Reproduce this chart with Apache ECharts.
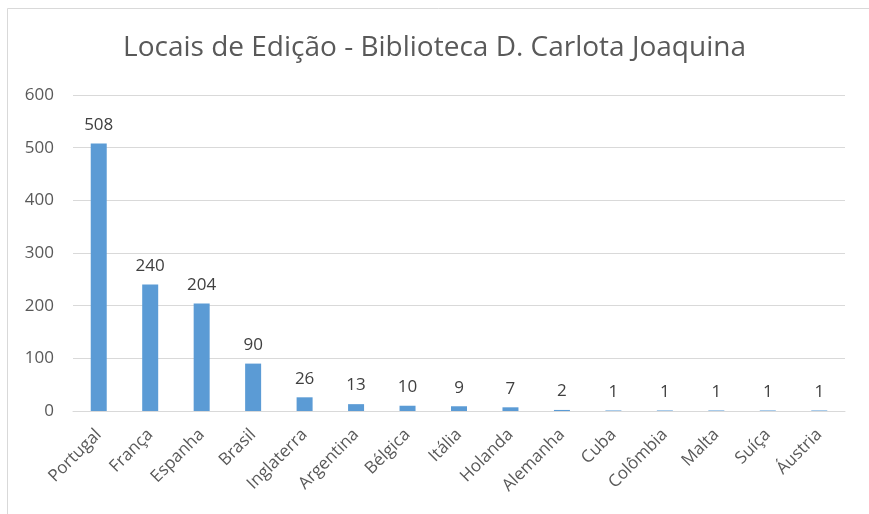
<!DOCTYPE html>
<html><head><meta charset="utf-8">
<script src="https://cdn.jsdelivr.net/npm/echarts@6/dist/echarts.min.js"></script>
<style>html,body{margin:0;padding:0;background:#fff}#c{width:869px;height:514px}</style>
</head><body><div id="c"></div>
<script>
const categories = ["Portugal","França","Espanha","Brasil","Inglaterra","Argentina","Bélgica","Itália","Holanda","Alemanha","Cuba","Colômbia","Malta","Suíça","Áustria"];
const values = [508,240,204,90,26,13,10,9,7,2,1,1,1,1,1];
const yTicks = [0,100,200,300,400,500,600];
const titleText = "Locais de Edição - Biblioteca D. Carlota Joaquina";

const chart = echarts.init(document.getElementById('c'));
chart.setOption({
  animation:false,
  backgroundColor:'#fff',
  graphic:[{type:'rect',shape:{x:7.5,y:8.5,width:870,height:520},style:{fill:'none',stroke:'#d9d9d9',lineWidth:1}}],
  title:{text:titleText,left:'center',top:29,textStyle:{fontFamily:'Open Sans',fontWeight:'normal',fontSize:28,color:'#595959'}},
  grid:{left:73,right:24,top:95,bottom:103},
  xAxis:{type:'category',data:categories,
    axisLine:{lineStyle:{color:'#d9d9d9',width:1}},axisTick:{show:false},
    axisLabel:{rotate:45,interval:0,fontFamily:'Open Sans',fontSize:17,color:'#595959',margin:21}},
  yAxis:{type:'value',min:yTicks[0],max:yTicks[yTicks.length-1],interval:100,
    axisLine:{show:false},axisTick:{show:false},
    splitLine:{lineStyle:{color:'#d9d9d9',width:1}},
    axisLabel:{fontFamily:'Open Sans',fontSize:17,color:'#595959',margin:19}},
  series:[{type:'bar',data:values,barWidth:16,itemStyle:{color:'#5b9bd5'},
    label:{show:true,position:'top',distance:10,fontFamily:'Open Sans',fontSize:17,color:'#404040'}}]
});
</script></body></html>
